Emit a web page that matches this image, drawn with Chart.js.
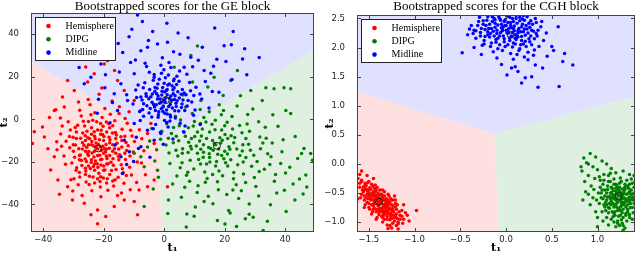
<!DOCTYPE html>
<html>
<head>
<meta charset="utf-8">
<script src="https://cdn.jsdelivr.net/npm/chart.js@4.4.1/dist/chart.umd.min.js"></script>
<style>
  body { margin: 0; background: #fff; }
  .panel { position: absolute; top: 0; width: 320px; height: 254px; }
</style>
</head>
<body>
<div class="panel" style="left:0"><canvas id="geChart" width="320" height="254"></canvas></div>
<div class="panel" style="left:320px"><canvas id="cghChart" width="320" height="254"></canvas></div>
<script>
const classNames = ['Hemisphere', 'DIPG', 'Midline'];
const classColors = ['#ff0000', '#008000', '#0000ff'];
const regionColors = ['rgba(255,0,0,0.12)', 'rgba(0,128,0,0.12)', 'rgba(0,0,255,0.12)'];

// GE block (left panel)
const geXTicks = [-40, -20, 0, 20, 40];
const geYTicks = [-40, -20, 0, 20, 40];
const geXRange = [-44, 49.5];
const geYRange = [-53, 50];

const geHemisphere = [
  [-22,-14],[-24,-12],[-20,-16],[-26,-10],[-18,-11],[-21,-19],[-25,-17],[-23,-8],[-19,-6],[-27,-14],
  [-17,-15],[-20,-22],[-23,-24],[-28,-19],[-16,-9],[-24,-4],[-29,-9],[-15,-19],[-21,-2],[-26,-23],
  [-18,-26],[-14,-13],[-30,-15],[-22,-28],[-25,-1],[-17,-3],[-13,-8],[-28,-25],[-19,-30],[-31,-5],
  [-22.5,-11.2],[-20.3,-12.7],[-23.8,-15.9],[-25.6,-13.1],[-18.9,-18.4],[-21.4,-9.6],[-24.1,-20.3],
  [-19.7,-13.8],[-26.9,-6.4],[-16.8,-21.6],[-23.2,-17.7],[-20.8,-5.1],[-27.7,-16.8],[-15.6,-11.3],
  [-22.1,-20.9],[-25.2,-8.7],[-18.2,-8.4],[-29.3,-12.1],[-14.7,-16.7],[-21.6,-25.4],[-24.7,-26.8],
  [-17.4,-24.1],[-27.2,-21.7],[-12.8,-18.9],[-20.1,-27.6],[-26.3,-3.2],[-13.9,-4.7],[-30.5,-20.6],
  [-19.1,-1.3],[-23.6,-0.4],[-16.1,-6.2],[-28.6,-2.8],[-11.9,-12.4],[-32.4,-10.3],[-21.1,-31.8],
  [-25.8,-29.5],[-15.2,-27.3],[-18.6,-33.4],[-11.4,-22.6],[-33.1,-17.2],[-29.8,-27.9],[-13.3,-30.1],
  [-10.6,-7.8],[-31.7,-1.1],[-22.9,3.1],[-17.8,2.4],[-27.4,1.6],[-12.2,-1.9],[-10.2,-15.4],[-34.2,-6.9],
  [-21,-13],[-23,-15],[-19,-14],[-25,-12],[-20,-10],[-22,-17],[-24,-19],[-18,-17],[-26,-15],[-21,-7],
  [-23,-21],[-17,-12],[-27,-11],[-20,-24],[-24,-7],[-16,-16],[-28,-17],[-19,-21],[-22,-5],[-25,-22],
  [-18,-4],[-26,-26],[-15,-14],[-29,-6],[-21,-27],[-14,-10],[-30,-12],[-17,-29],[-23,-30],[-13,-16],
  [-21.7,-11.9],[-19.4,-15.2],[-23.3,-12.6],[-24.9,-15.1],[-20.6,-18.8],[-22.8,-9.1],[-18.1,-13.6],
  [-26.1,-18.7],[-16.9,-18.5],[-27.6,-8.9],[-19.9,-8.1],[-24.4,-23.1],[-15.8,-7.4],[-28.9,-22.8],
  [-21.9,-22.6],[-17.6,-20.2],[-25.5,-5.6],[-14.2,-21.4],[-30.1,-8.4],[-20.2,-3.3],[-12.6,-10.9],
  [-23.5,-27.1],[-26.7,-0.9],[-16.3,-0.7],[-31.2,-13.4],[-13.5,-25.1],[-18.8,-27.9],[-24.2,2.2],
  [-20.5,0.8],[-29.1,-23.9],[-11.3,-17.3],[-32.6,-21.1],[-14.9,2.7],[-27.9,4.3],[-9.8,-10.4],[-33.7,-3.2],
  [-23.9,-33.6],[-16.7,-31.4],[-28.4,-30.8],[-10.8,-26.2],[-19.6,5.1],[-25.1,9.3],[-12.9,0.4],[-8.9,-20.1],
  [-35.4,-14.3],[-20.9,-36.4],[-30.2,-33.7],[-7.4,-9.2],[-34.3,0.6],[-15.4,-35.8],
  [-22.4,-13.1],[-20.7,-14.6],[-23.9,-10.4],[-19.2,-11.9],[-25.3,-16.2],[-21.3,-16.9],[-17.9,-9.6],
  [-26.5,-12.2],[-22.7,-19.6],[-18.5,-20.9],[-24.6,-9.1],[-20.4,-7.2],[-27.3,-19.4],[-16.4,-13.9],
  [-23.1,-5.9],[-19.6,-23.8],[-25.9,-24.3],[-15.1,-17.4],[-28.2,-13.9],[-21.2,-29.2],[-17.1,-6.4],
  [-26.1,-7.7],[-14.3,-8.2],[-29.6,-17.8],[-18.3,-2.1],[-22.3,-1.2],[-13.8,-23.2],[-24.8,-30.7],
  [-16.2,-28.4],[-31.3,-8.1],[-12.4,-14.7],[-27.9,-27.1],[-20.9,-21.5],[-23.4,-22.2],[-19.1,-17.3],
  [-25.7,-19.8],[-15.9,-23.6],[-29.4,-3.9],[-11.1,-5.2],[-33.9,-12.7],
  [-43.5,-11.4],[-42.9,-5.9],[-40.2,-3.6],[-39.6,-8.3],[-36.3,4.2],[-35.8,4.5],[-33,5.8],[-33.6,10.5],
  [-36.3,-17.6],[-31.9,-31.7],[-30.3,-37.9],[-26.4,-39.5],[-24.2,-44.9],[-22,-49.1],[-22,-42.6],
  [-19.3,-45.7],[-16.5,-41],[-13.2,-37.9],[-9.9,-38.7],[-8.8,-44.9],[-5.5,-31.7],[-3.3,-28.5],[1.1,-31.7],
  [-29.7,13.6],[-31.9,18.3],[-25.3,17.5],[-23.1,21.4],[-19.8,26],[-18.7,27.6],[-15.4,18.3],[-13.2,13.6],
  [-9.9,8.9],[-7.7,4.2],[-4.4,-2],[-5.5,-6.7],[-3.3,-11.4],[-7.5,-20.5],[-6.2,-26.1],[-8.3,-33.2],
  [-37.5,-23.8],[-35.1,-28.6],[-38.4,-13.9],[-37.9,0.8],[-34.6,-35.2],[-27.1,-35.8],[-14.1,-34.6],
  [-28.3,8.2],[-21.5,11.8],[-17.2,8.6],[-11.6,3.5],[-25.9,24.6],[-16.4,22.9],[-20.6,14.7],[-12.5,-26.4],
  [-9.1,-29.7],[-35.5,-10.5],[-30.8,-28.4],[-8.2,-4.9],[-6.7,-14.8],[-24.5,6.8],[-14.8,5.9],[-11.2,-33.1]
];

const geDipg = [
  [17,-12],[14,-9],[20,-15],[11,-6],[23,-11],[15,-18],[9,-14],[19,-5],[12,-21],[25,-17],
  [7,-8],[21,-22],[5,-3],[16,-26],[27,-9],[10,-1],[3,-11],[13,-15.5],[18.4,-8.7],[8.6,-19.3],
  [22.6,-4.6],[6.1,-13.8],[15.8,-2.3],[24.3,-21.4],[11.7,-10.2],[19.7,-18.6],[2.4,-6.7],[13.4,-24.8],
  [28.5,-14.6],[4.5,-17.2],[20.8,-1.4],[9.3,2.7],[26.2,-25.7],[0.8,-2.1],[17.6,-29.4],[7.4,-26.3],
  [30.7,-19.8],[1.6,-15.9],[14.9,3.6],[23.8,-30.8],[-1.2,-9.4],[11.2,-31.2],[31.6,-8.3],[6.8,-31.9],
  [18.9,2.1],[-2.5,-14.3],[27.4,-2.2],[3.7,1.4],[34.2,-16.2],[12.9,-17.8],[16.2,-14.6],[21.4,-12.9],
  [8.1,-10.8],[5.3,-22.8],[25.5,-33.6],[29.8,-27.4],[33.1,-23.5],[36.4,-29.1],[31.2,-36.1],[38.5,-20.8],
  [35.7,-11.2],[40.1,-25.3],[37.2,-34.7],[28.1,-39.8],[20.7,-35.4],[14.6,-36.2],[42.6,-30.4],[39.3,-9.6],
  [33.4,-3.7],[44.1,-18.4],[29.3,4.8],[24.1,6.3],
  [16,-10],[18,-14],[13,-12],[21,-9],[15,-6],[19,-17],[11,-16],[24,-14],[9,-9],[22,-19],
  [14,-21],[26,-12],[8,-4],[20,-3],[12,-2],[17,-22],[6,-16],[23,-25],[27,-18],[4,-8],
  [15.4,-13.7],[18.7,-11.1],[12.3,-7.9],[20.9,-16.3],[10.6,-12.6],[16.8,-4.9],[22.1,-7.7],[7.9,-15.6],
  [14.2,-27.8],[25.7,-6.3],[3.1,-3.9],[19.3,-26.6],[9.8,-23.4],[28.9,-22.1],[0.6,-12.1],[26.9,-29.7],
  [5.4,-0.3],[13.1,0.9],[31.8,-13.9],[1.9,-20.8],[22.4,1.3],[8.4,-29.1],[34.9,-21.2],[17.9,-33.1],
  [-0.8,-5.6],[30.3,-31.6],[11.9,4.6],[36.8,-25.9],[4.2,-26.7],[24.6,-37.3],[33.7,-8.9],[-3.1,-19.6],
  [38.9,-15.2],[16.1,-39.7],[41.5,-22.6],[27.6,2.3],[7.1,5.8],[35.1,-40.2],[21.8,-44.1],[44.7,-28.1],
  [-1.9,-27.3],[31.2,-1.1],[2.2,8.1],[18.2,6.9],[39.7,-33.4],[10.3,-41.2],[46.2,-13.7],[25.2,11.1],
  [37.6,-3.3],[14.4,15.2],[29.4,-46.1],[43.3,-8.1],[-4.8,-10.2],[5.7,-36.6],[32.4,8.9],[20.1,-49.2],
  [47.1,-31.8],[1.2,-44.3],[35.9,2.1],[9.4,17.6],
  [16.6,-11.4],[14.7,-13.2],[19.2,-9.8],[12.6,-4.6],[21.7,-14.1],[17.7,-16.4],[10.1,-8.1],[23.3,-8.6],
  [15.1,-20.1],[25.8,-14.9],[8.7,-12.7],[20.3,-20.4],[13.8,-1.3],[6.6,-6.1],[18.1,-24.3],[27.9,-11.7],
  [11.4,-18.9],[3.9,-14.6],[22.9,-27.9],[9.6,-3.1],[29.6,-16.9],[16.9,-0.4],[5.9,-20.4],[24.9,-2.9],
  [13.6,-29.6],[1.4,-8.9],[31.4,-24.6],[19.6,4.1],[7.8,-24.9],[26.1,-20.1],[32.6,-11.1],[10.9,-34.4],
  [22.7,-33.2],[4.8,-10.1],[35.3,-17.6],[28.2,-5.6],[17.3,-19.8],[20.1,-7.1],[12.1,-14.1],[14.9,-16.2],
  [7.5,-44.5],[7.3,-50.7],[17.6,-47.6],[23.9,-50.4],[32.7,-52.3],[1.4,-37.9],[-6.6,-41],[13.2,-38.7],
  [28.1,-44.6],[34.1,-47.9],[40.3,-43.4],[43.2,-37.9],[45.9,-35.1],[49,-19.2],[48.4,-16.1],[45.4,-16.1],
  [41.8,2.7],[40.2,4.2],[41.8,14.4],[39.6,14.8],[36.3,14.4],[33.6,14.8],[28.6,13.6],[24.2,22.9],
  [22,18.3],[11,34.5],[8.8,30],[3.3,24.5],[16.5,19.8],[-7.7,-17.6],[-5.5,-13],[-9.9,-16],[-6.6,-22.3],
  [-2.2,-23.9],[-4.1,-4.3],[-0.4,5.6],[6.2,11.4],[12.1,8.8],[19.5,11.2],[26.8,-46.8],[21.3,-42.9],
  [46.8,-26.2],[2.8,-30.4],[-3.6,-32.8],[9.9,-45.6]
];

const geMidline = [
  [0,9],[-2,11],[2,7],[-4,8],[3,12],[1,14],[-1,5],[4,6],[-3,15],[-5,3],[5,10],[0,17],[2,2],[-2,1],
  [6,14],[-6,12],[1,11.5],[-1.5,7.6],[3.4,9.3],[-3.2,5.8],[0.8,4.4],[-0.7,13.2],[2.6,15.8],[-4.4,10.6],
  [4.8,3.9],[1.9,-0.8],[-2.8,-2.4],[5.9,7.2],[-5.7,6.4],[0.4,19.6],[3.1,18.1],[-3.6,18.4],[7.2,11.6],
  [-7.3,9.1],[1.3,-3.6],[-0.9,21.7],[4.2,20.3],[-2.1,16.6],[6.8,4.1],[-8.1,3.7],[2.2,24.4],[-4.9,22.1],
  [8.4,17.3],[-6.4,17.2],[5.3,-1.8],[-1.2,-6.1],[9.1,8.2],[-9.4,13.8],[3.7,0.6],[0.2,2.8],
  [0.5,10],[-1,8],[1.5,6],[-2.5,12],[2.5,9],[-0.5,15],[3.5,4],[-3.5,7],[1,2.5],[-1.8,3.5],[4.5,13],
  [-4.8,14],[0.2,12.8],[2.2,11],[-2.2,9.5],[1.7,16.6],[-0.3,6.3],[3.9,7.6],[-3.9,11.9],[5.6,11.8],
  [-5.1,9.7],[0.9,-1.5],[-1.6,18.9],[6.2,9.1],[-6.8,7.3],[2.9,13.9],[-2.9,4.2],[4.1,16.4],[-4.1,1.1],
  [7.6,6.3],[-0.1,23.3],[8.7,13.4],[-8.6,16.1],[5.1,22.7],[-7.9,-0.6],[10.2,4.4],[-10.3,7.2],[1.6,26.7],
  [-5.8,24.8],[11.8,11.9],[-12.4,11.6],[6.9,-3.2],[-3.6,-4.4],[13.6,17.8],[-9.5,27.9],[3.1,31.8],
  [9.4,24.7],[-14.8,22.3],[15.9,13.1],[-0.3,-11.7],[-8.5,-13.7],[16.3,24.9],[-17.1,7.9],[-5.2,37.1],
  [4.6,40.6],[-19.6,14.8],[20.4,27.2],[-10.1,-19.8],[11.9,-2.4],[-22.1,2.9],
  [0.3,8.1],[-1.3,9.6],[1.8,9.9],[-0.8,11.4],[2.7,5.3],[-2.6,6.9],[0.7,13.6],[-3.1,13.1],[3.6,11.1],
  [-1.9,2.1],[4.3,8.7],[-4.6,5.1],[1.2,16.1],[-0.4,3.7],[2.1,1.1],[5.7,5.6],[-5.9,10.8],[3.3,14.8],
  [-2.4,14.6],[0.1,-0.6],[6.6,12.4],[-6.9,14.9],[1.4,20.8],[-3.3,21.1],[7.9,8.9],[-7.1,4.6],[4.9,17.9],
  [-1.1,25.4],[9.8,11.2],[-9.1,10.2],
  [-8.8,49.1],[-7.2,46],[16.7,42.9],[22.8,41.3],[25.9,28.4],[22.2,35.1],[22.4,18.7],[27.3,21],
  [-10.7,42.4],[-15.2,35.7],[-11.6,38.8],[-7.7,32.3],[-5.5,33.9],[-2.2,35.4],[1.1,36.2],[-18.7,29.2],
  [-20.9,26],[-24.2,19.8],[-26.4,16.7],[8.8,29.2],[13.2,22.9],[15.4,21.7],[6.6,24.5],[3.3,19],
  [-3.3,19.8],[-9.9,21.4],[-14.3,16.7],[-16.5,12],[-12.1,8.9],[-7.7,10.5],[-15.4,4.2],[-13.2,-9.8],
  [-14.3,-17.6],[-13.8,-25.5],[-7.7,-12.9],[-9.9,-2],[-5.5,-5.1],[-3.3,-9.8],[-1.1,-6.7],[10.5,15.1],
  [12.4,9.6],[9.7,1.9],[14.8,5.3],[18.1,12.7],[11.3,27.8],[5.2,30.6],[-11.1,26.7],[-19.4,20.9],
  [-21.7,9.4],[-17.9,-1.6],[-11.5,-15.3],[-6.3,26.4],[-0.6,28.9],[17.4,28.2],[19.8,34.6],[-13.7,31.4],
  [7.9,38.4],[-3.8,41.3],[12.6,33.9],[26.6,33.2],[31.4,29.1],[-28.1,24.4],[-23.5,30.7],[0.9,45.2],
  [6.4,-5.9],[2.9,-9.3],[-9.2,-8.4],[-16.2,-12.1],[-12.4,-21.2],[-4.7,-17.9],[-6.8,1.4],[7.5,21.2]
];

const geCentres = [[-21.8,-13.7],[17.4,-12.5],[0.5,9]];

// decision regions, corners in data units (Hemisphere, DIPG, Midline)
const geRegions = [
  [[-44,-53],[-1.0,-53],[-1.4,-10.3],[-44,27.6]],
  [[-1.0,-53],[49.5,-53],[49.5,32.6],[-1.4,-10.3]],
  [[-44,27.6],[-1.4,-10.3],[49.5,32.6],[49.5,50],[-44,50]]
];

// CGH block (right panel)
const cghXTicks = [-1.5, -1.0, -0.5, 0.0, 0.5, 1.0];
const cghYTicks = [-1.0, -0.5, 0.0, 0.5, 1.0, 1.5, 2.0, 2.5];
const cghXRange = [-1.63, 1.41];
const cghYRange = [-1.17, 2.56];

const cghHemisphere = [
  [-1.38,-0.65],[-1.45,-0.55],[-1.32,-0.75],[-1.5,-0.45],[-1.26,-0.85],[-1.4,-0.72],[-1.35,-0.58],
  [-1.48,-0.62],[-1.3,-0.66],[-1.55,-0.38],[-1.22,-0.92],[-1.42,-0.82],[-1.28,-0.55],[-1.52,-0.52],
  [-1.2,-0.78],[-1.36,-0.9],[-1.46,-0.7],[-1.33,-0.48],[-1.58,-0.3],[-1.18,-1.0],[-1.44,-0.42],
  [-1.3,-0.95],[-1.4,-0.5],[-1.25,-0.7],[-1.5,-0.68],[-1.34,-0.8],[-1.56,-0.48],[-1.24,-1.02],
  [-1.43,-0.6],[-1.37,-0.77],[-1.29,-0.62],[-1.47,-0.35],[-1.39,-0.87],[-1.21,-0.68],[-1.53,-0.58],
  [-1.31,-0.85],[-1.6,-0.4],[-1.27,-0.96],[-1.41,-0.4],[-1.16,-0.88],[-1.49,-0.78],[-1.34,-0.7],
  [-1.45,-0.48],[-1.23,-0.82],[-1.36,-0.52],[-1.58,-0.52],[-1.19,-0.94],[-1.3,-1.05],[-1.51,-0.32],
  [-1.42,-0.95],[-1.26,-0.6],[-1.62,-0.25],[-1.14,-0.8],[-1.47,-0.86],[-1.35,-1.0],[-1.55,-0.62],
  [-1.22,-0.55],[-1.4,-0.58],[-1.33,-0.62],[-1.44,-0.76],[-1.28,-0.78],[-1.5,-0.55],[-1.38,-0.45],
  [-1.2,-1.06],
  [-1.58,-0.28],[-1.57,-0.45],[-1.59,-0.58],[-1.54,-0.33],[-1.53,-0.43],[-1.55,-0.55],[-1.52,-0.66],
  [-1.5,-0.3],[-1.49,-0.41],[-1.48,-0.52],[-1.51,-0.6],[-1.47,-0.7],[-1.46,-0.38],[-1.45,-0.62],
  [-1.44,-0.53],[-1.43,-0.68],[-1.42,-0.45],[-1.41,-0.78],[-1.41,-0.63],[-1.39,-0.55],[-1.39,-0.7],
  [-1.38,-0.81],[-1.37,-0.6],[-1.36,-0.68],[-1.35,-0.45],[-1.35,-0.75],[-1.34,-0.88],[-1.33,-0.55],
  [-1.32,-0.69],[-1.32,-0.8],[-1.31,-0.6],[-1.3,-0.9],[-1.29,-0.72],[-1.28,-0.85],[-1.27,-0.65],
  [-1.27,-0.76],[-1.26,-0.92],[-1.25,-0.8],[-1.24,-0.62],[-1.23,-0.88],[-1.22,-0.98],[-1.21,-0.74],
  [-1.2,-0.86],[-1.19,-0.7],[-1.18,-1.03],[-1.17,-0.82],[-1.16,-0.95],[-1.14,-0.9],[-1.46,-0.82],
  [-1.52,-0.45],[-1.4,-0.62],[-1.36,-0.82],[-1.3,-0.75],[-1.43,-0.36],[-1.48,-0.6],[-1.56,-0.4],
  [-1.33,-0.95],[-1.24,-0.72],[-1.29,-0.52],[-1.41,-0.92],[-1.37,-0.52],[-1.45,-0.72],[-1.34,-0.62],
  [-1.27,-1.06],[-1.21,-0.62],[-1.6,-0.33],[-1.5,-0.75],[-1.1,-0.84],[-1.12,-0.95],[-1.54,-0.7],
  [-1.37,-0.63],[-1.42,-0.57],[-1.33,-0.72],[-1.46,-0.5],[-1.29,-0.8],[-1.4,-0.67],[-1.35,-0.55],
  [-1.44,-0.66],[-1.31,-0.7],[-1.5,-0.5],[-1.26,-0.88],[-1.38,-0.76],[-1.48,-0.44],[-1.24,-0.77],
  [-1.34,-0.84],[-1.43,-0.48],[-1.28,-0.68],[-1.53,-0.37],[-1.21,-0.9],[-1.36,-0.6],[-1.47,-0.57],
  [-1.32,-0.64],[-1.39,-0.82],[-1.25,-0.94],[-1.51,-0.48],[-1.41,-0.54],[-1.3,-0.82],[-1.45,-0.78],
  [-1.35,-0.92],[-1.55,-0.45],
  [-0.98,-0.8],[-1.06,-0.98],[-1.18,-1.12],[-1.29,-1.11],[-1.58,-0.12],[-1.12,-0.7],
  [-1.08,-0.88],[-1.6,-0.18],[-1.52,-0.2],[-1.62,-0.6],[-1.13,-1.02],[-1.25,-1.1],[-1.45,-0.25],[-1.55,-0.75]
];

const cghDipg = [
  [1.23,-0.55],[1.15,-0.5],[1.3,-0.6],[1.2,-0.42],[1.35,-0.48],[1.1,-0.62],[1.27,-0.7],[1.18,-0.35],
  [1.38,-0.58],[1.05,-0.45],[1.25,-0.8],[1.33,-0.38],[1.12,-0.75],[1.4,-0.68],[1.22,-0.65],[1.08,-0.55],
  [1.29,-0.5],[1.16,-0.58],[1.36,-0.75],[1.02,-0.68],[1.19,-0.88],[1.31,-0.85],[1.24,-0.4],[1.14,-0.3],
  [1.4,-0.4],[1.06,-0.35],[1.26,-0.3],[1.21,-0.74],[1.34,-0.64],[1.11,-0.44],[1.37,-0.52],[1.17,-0.68],
  [1.28,-0.92],[1.09,-0.8],[1.32,-0.28],[1.2,-0.52],[1.25,-0.62],[1.13,-0.56],[1.3,-0.44],[1.39,-0.84],
  [1.04,-0.58],[1.22,-0.98],[1.15,-0.95],[1.35,-0.92],[1.27,-1.02],[1.2,-1.08],[1.3,-1.1],[1.12,-1.05],
  [1.24,-0.47],[1.18,-0.6],[1.33,-0.7],[1.07,-0.7],[1.26,-0.56],[1.38,-0.33],[1.01,-0.5],[1.16,-0.82],
  [1.22,-0.52],[1.26,-0.5],[1.19,-0.57],[1.29,-0.58],[1.24,-0.63],[1.17,-0.46],[1.32,-0.52],[1.21,-0.68],
  [1.28,-0.66],[1.14,-0.6],[1.35,-0.57],[1.18,-0.74],[1.31,-0.74],[1.1,-0.5],[1.37,-0.45],[1.23,-0.77],
  [1.27,-0.43],[1.15,-0.4],[1.33,-0.82],[1.09,-0.66],[1.39,-0.62],[1.2,-0.35],[1.3,-0.35],[1.12,-0.84],
  [1.25,-0.88],[1.36,-0.68],[1.06,-0.6],[1.4,-0.5],[1.17,-0.91],[1.28,-0.78],[1.04,-0.5],[1.23,-0.42],
  [1.34,-0.42],[1.13,-0.68],[1.21,-0.6],[1.27,-0.6],[1.16,-0.52],[1.3,-0.66],[1.19,-0.82],[1.11,-0.38],
  [1.38,-0.75],[1.08,-0.74],[1.26,-0.96],[1.22,-1.02],[1.18,-1.0],[1.32,-0.98],[1.24,-1.06],[1.03,-0.4],
  [1.07,-0.28],[1.25,-0.24],[1.37,-0.26],[1.18,-0.26],[1.14,-0.16],[1.02,-0.22],[1.33,-0.6],[1.29,-0.46],
  [1.2,-0.47],[1.15,-0.7],[1.26,-0.72],[1.35,-0.87],[1.1,-0.92],[1.28,-1.06],[1.05,-0.82],[0.96,-0.44],
  [0.99,-0.62],[1.38,-0.95],[1.41,-0.3],[1.12,-0.3],[1.24,-0.33],[0.9,-0.52],
  [1.24,-0.54],[1.2,-0.62],[1.28,-0.52],[1.17,-0.55],[1.31,-0.64],[1.23,-0.45],[1.26,-0.67],[1.14,-0.5],
  [1.34,-0.5],[1.19,-0.7],[1.29,-0.7],[1.11,-0.57],[1.36,-0.62],[1.22,-0.8],[1.3,-0.4],[1.16,-0.42],
  [1.38,-0.52],[1.25,-0.74],[1.13,-0.76],[1.33,-0.78],[1.21,-0.37],[1.27,-0.84],[1.1,-0.7],[1.4,-0.58],
  [1.18,-0.85],[1.35,-0.35],[1.08,-0.45],[1.23,-0.9],[1.31,-0.88],[1.15,-0.64],
  [0.85,0.1],[0.92,0.18],[0.98,0.12],[0.88,0.02],[1.05,0.05],[1.1,0.0],[0.95,-0.05],[0.83,-0.12],
  [1.0,-0.1],[1.15,-0.08],[0.9,-0.2],[1.07,-0.18],[1.2,-0.15],[0.97,-0.25],[1.28,-0.12],[0.86,-0.3],
  [1.03,-0.28],[1.35,-0.18],[0.93,-0.38],[0.87,-0.48],[0.95,-0.58],[0.84,-0.62],[0.92,-0.7],[0.98,-0.82],
  [1.0,-0.92],[1.06,-0.98],[1.4,-0.2],[0.9,0.0],[1.12,-0.2],[0.82,-0.05],[1.0,-1.08],[1.28,-1.14]
];

const cghMidline = [
  [0.03,2.25],[-0.1,2.3],[0.12,2.2],[-0.05,2.4],[0.2,2.32],[-0.18,2.18],[0.08,2.45],[-0.22,2.38],
  [0.25,2.15],[-0.02,2.1],[0.15,2.52],[-0.13,2.5],[0.3,2.28],[-0.28,2.26],[0.06,2.34],[-0.07,2.2],
  [0.18,2.4],[0.1,2.06],[-0.16,2.08],[0.27,2.46],[-0.3,2.45],[0.01,2.54],[0.22,2.02],[-0.24,2.12],
  [0.34,2.2],[-0.09,1.98],[0.14,1.95],[-0.35,2.3],[0.38,2.36],[-0.2,2.53],[0.04,2.17],[-0.04,2.29],
  [0.09,2.37],[-0.12,2.42],[0.16,2.27],[-0.19,2.33],[0.21,2.11],[0.28,2.05],[-0.01,2.02],[0.11,2.14],
  [-0.26,2.04],[0.32,2.5],[-0.33,2.16],[0.41,2.12],[0.05,1.9],[-0.14,1.93],[0.24,1.92],[0.36,2.02],
  [-0.38,2.38],[0.19,2.55],[-0.06,2.47],[0.13,2.29],[-0.11,2.14],[0.07,2.26],[-0.03,2.36],[0.17,2.19],
  [0.02,2.43],[-0.17,2.24],[0.26,2.35],[-0.23,2.31],
  [0.0,2.3],[0.05,2.38],[-0.06,2.26],[0.1,2.22],[-0.12,2.35],[0.14,2.33],[-0.02,2.45],[0.07,2.5],
  [-0.15,2.45],[0.2,2.47],[-0.09,2.16],[0.04,2.12],[0.17,2.12],[-0.2,2.22],[0.24,2.25],[-0.25,2.4],
  [0.12,2.42],[-0.03,2.2],[0.09,2.29],[-0.14,2.28],[0.22,2.38],[0.02,2.05],[-0.21,2.47],[0.29,2.4],
  [-0.08,2.53],[0.11,2.55],[-0.27,2.33],[0.31,2.15],[-0.17,2.02],[0.16,2.05],[0.03,2.33],[-0.05,2.34],
  [0.13,2.18],[-0.1,2.24],[0.19,2.27],[-0.18,2.4],[0.06,2.2],[-0.01,2.38],[0.23,2.32],[-0.23,2.19],
  [0.08,2.08],[-0.07,2.05],[0.26,2.1],[-0.31,2.38],[0.35,2.3],[-0.36,2.24],[0.15,1.98],[-0.04,1.95],
  [0.33,2.43],[-0.29,2.52],[0.18,2.49],[-0.12,2.48],[0.01,2.25],[0.27,2.2],[-0.24,2.06],[0.39,2.45],
  [-0.4,2.32],[0.12,1.88],[0.2,1.84],[0.31,1.96],
  [0.02,2.28],[-0.04,2.32],[0.08,2.33],[-0.09,2.39],[0.13,2.25],[-0.13,2.2],[0.05,2.43],[0.17,2.36],
  [-0.16,2.33],[0.1,2.16],[-0.02,2.15],[0.21,2.21],[-0.2,2.27],[0.15,2.46],[-0.07,2.5],[0.04,2.52],
  [0.25,2.42],[-0.25,2.46],[0.28,2.3],[-0.28,2.2],[0.0,2.38],[0.07,2.01],[-0.11,2.09],[0.19,2.06],
  [0.33,2.24],[-0.33,2.29],[0.11,2.5],[-0.15,2.53],[0.23,2.53],[-0.01,2.48],
  [0.13,1.59],[0.17,1.39],[0.35,1.32],[0.58,1.33],[0.73,1.7],[0.62,1.76],[0.64,1.9],[0.5,2.02],
  [0.57,2.36],[-0.48,1.91],[-0.35,2.0],[0.01,1.53],[0.06,1.65],[0.21,1.48],[0.28,1.5],[-0.05,1.71],
  [0.1,1.67],[0.32,1.7],[0.4,1.65],[0.24,1.79],[0.45,1.85],[0.08,1.8],[-0.1,1.82],[0.3,1.87],
  [0.52,1.95],[-0.27,1.88],[0.44,2.25],[-0.42,2.22]
];

const cghCentres = [[-1.39,-0.65],[1.23,-0.55],[0.05,2.22]];

const cghRegions = [
  [[-1.63,-1.17],[-0.08,-1.17],[-0.13,0.52],[-1.63,1.245]],
  [[-0.08,-1.17],[1.41,-1.17],[1.41,1.16],[-0.13,0.52]],
  [[-1.63,1.245],[-0.13,0.52],[1.41,1.16],[1.41,2.56],[-1.63,2.56]]
];

function fmtTick(decimals) {
  return v => {
    if (Math.abs(v) < 1e-9) return (0).toFixed(decimals);
    return (v < 0 ? '\u2212' : '') + Math.abs(v).toFixed(decimals);
  };
}

function toXY(points) {
  return points.map(p => ({ x: p[0], y: p[1] }));
}

// shaded class regions under the points
function regionPlugin(polygons) {
  return {
    id: 'regions',
    beforeDatasetsDraw(chart) {
      const { ctx, chartArea, scales } = chart;
      ctx.save();
      ctx.beginPath();
      ctx.rect(chartArea.left, chartArea.top, chartArea.width, chartArea.height);
      ctx.clip();
      polygons.forEach((poly, i) => {
        ctx.beginPath();
        poly.forEach((p, j) => {
          const px = scales.x.getPixelForValue(p[0]);
          const py = scales.y.getPixelForValue(p[1]);
          if (j === 0) ctx.moveTo(px, py); else ctx.lineTo(px, py);
        });
        ctx.closePath();
        ctx.fillStyle = regionColors[i];
        ctx.fill();
      });
      ctx.restore();
    }
  };
}

// frame, inward ticks on all four sides, and the boxed legend
const framePlugin = {
  id: 'frame',
  afterDraw(chart) {
    const { ctx, chartArea: a, scales } = chart;
    ctx.save();
    ctx.strokeStyle = '#444';
    ctx.lineWidth = 1;
    ctx.strokeRect(a.left + 0.5, a.top + 0.5, a.width - 1, a.height - 1);
    ctx.beginPath();
    scales.x.ticks.forEach(t => {
      const px = Math.round(scales.x.getPixelForValue(t.value)) + 0.5;
      ctx.moveTo(px, a.bottom); ctx.lineTo(px, a.bottom - 4);
      ctx.moveTo(px, a.top); ctx.lineTo(px, a.top + 4);
    });
    scales.y.ticks.forEach(t => {
      const py = Math.round(scales.y.getPixelForValue(t.value)) + 0.5;
      ctx.moveTo(a.left, py); ctx.lineTo(a.left + 4, py);
      ctx.moveTo(a.right, py); ctx.lineTo(a.right - 4, py);
    });
    ctx.stroke();

    // legend
    const bx = a.left + 4.5, by = a.top + 4.5, bw = 80, bh = 43;
    ctx.fillStyle = '#fff';
    ctx.fillRect(bx, by, bw, bh);
    ctx.strokeStyle = '#222';
    ctx.strokeRect(bx, by, bw, bh);
    ctx.font = '10px "Liberation Serif"';
    ctx.textBaseline = 'middle';
    for (let i = 0; i < 3; i++) {
      const ds = chart.data.datasets[i];
      const ry = by + 8.5 + i * 13.3;
      ctx.fillStyle = ds.pointBackgroundColor;
      ctx.beginPath();
      ctx.arc(bx + 13, ry, 2.3, 0, Math.PI * 2);
      ctx.fill();
      ctx.fillStyle = '#000';
      ctx.fillText(ds.label, bx + 30, ry);
    }
    ctx.restore();
  }
};

function makeChart(id, cfg) {
  const datasets = cfg.points.map((pts, i) => ({
    label: classNames[i],
    data: toXY(pts),
    pointRadius: 1.75,
    pointBorderWidth: 0,
    pointBackgroundColor: classColors[i],
    pointBorderColor: classColors[i],
    order: 3 - i
  }));
  datasets.push({
    label: 'centres',
    data: toXY(cfg.centres),
    pointRadius: 3.5,
    pointBorderWidth: 1,
    pointBackgroundColor: 'rgba(0,0,0,0)',
    pointBorderColor: '#222',
    order: 0
  });

  const tickFont = { family: 'DejaVu Sans', size: 8.5 };
  return new Chart(document.getElementById(id), {
    type: 'scatter',
    data: { datasets: datasets },
    options: {
      responsive: false,
      animation: false,
      events: [],
      layout: { padding: { left: 0, right: cfg.padRight, top: 0, bottom: 0 } },
      plugins: {
        legend: { display: false },
        tooltip: { enabled: false },
        title: {
          display: true,
          text: cfg.title,
          fullSize: false,
          color: '#000',
          font: { family: 'Liberation Serif', size: 13, weight: 'normal', lineHeight: 1 },
          padding: { top: 0, bottom: cfg.titleGap }
        }
      },
      scales: {
        x: {
          type: 'linear',
          min: cfg.xRange[0],
          max: cfg.xRange[1],
          afterBuildTicks: s => { s.ticks = cfg.xTicks.map(v => ({ value: v })); },
          afterFit: s => { s.height = 22; },
          ticks: { callback: fmtTick(cfg.decimals), font: tickFont, color: '#222', padding: -5, maxRotation: 0, autoSkip: false },
          grid: { display: false },
          border: { display: false },
          title: { display: true, text: 't\u2081', color: '#000', padding: 0,
                   font: { family: 'DejaVu Serif', size: 11, weight: 'bold', lineHeight: 1 } }
        },
        y: {
          type: 'linear',
          min: cfg.yRange[0],
          max: cfg.yRange[1],
          afterBuildTicks: s => { s.ticks = cfg.yTicks.map(v => ({ value: v })); },
          afterFit: s => { s.width = cfg.yWidth; },
          ticks: { callback: fmtTick(cfg.decimals), font: tickFont, color: '#222', padding: 4, autoSkip: false },
          grid: { display: false },
          border: { display: false },
          title: { display: true, text: 't\u2082', color: '#000', padding: { top: cfg.yTitlePad, bottom: 0 },
                   font: { family: 'DejaVu Serif', size: 11, weight: 'bold', lineHeight: 0.8 } }
        }
      }
    },
    plugins: [regionPlugin(cfg.regions), framePlugin]
  });
}

makeChart('geChart', {
  title: 'Bootstrapped scores for the GE block',
  points: [geHemisphere, geDipg, geMidline],
  centres: geCentres,
  regions: geRegions,
  xTicks: geXTicks, yTicks: geYTicks,
  xRange: geXRange, yRange: geYRange,
  decimals: 0,
  yWidth: 31, padRight: 6, titleGap: 0, yTitlePad: 0
});

makeChart('cghChart', {
  title: 'Bootstrapped scores for the CGH block',
  points: [cghHemisphere, cghDipg, cghMidline],
  centres: cghCentres,
  regions: cghRegions,
  xTicks: cghXTicks, yTicks: cghYTicks,
  xRange: cghXRange, yRange: cghYRange,
  decimals: 1,
  yWidth: 37, padRight: 2, titleGap: 2, yTitlePad: 5.5
});
</script>
</body>
</html>
